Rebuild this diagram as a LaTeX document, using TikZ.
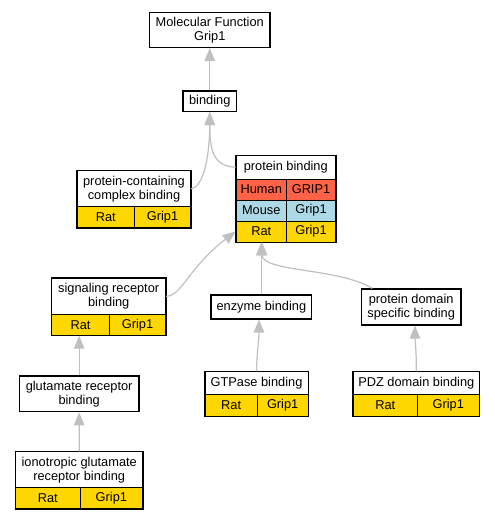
\documentclass[tikz,border=0pt]{standalone}
\usepackage{fontspec}
\setmainfont{Liberation Sans}
\usetikzlibrary{arrows.meta,calc}
\definecolor{ratc}{HTML}{FFD700}
\definecolor{humc}{HTML}{FF6347}
\definecolor{mouc}{HTML}{ADD8E6}
\definecolor{edgec}{HTML}{C0C0C0}
\newcommand\dfs{\fontsize{12.8}{14}\selectfont}
\tikzset{
  cell/.style={draw=black, line width=0.8pt, inner sep=0pt, font=\dfs, align=center, fill=white},
  box/.style={cell, line width=1.2pt},
  frame/.style={draw=black, line width=1.2pt},
  rat/.style={cell, fill=ratc},
  hum/.style={cell, fill=humc},
  mou/.style={cell, fill=mouc},
  edge/.style={draw=edgec, line width=1.2pt, -{Triangle[length=13pt,width=10.5pt]}},
}
\begin{document}
\begin{tikzpicture}[x=1pt,y=-1pt]
\useasboundingbox[fill=white] (0,0) rectangle (495,520);
% Molecular Function
\node[box, minimum width=120.5pt, minimum height=35pt] (mf) at (209.75,30) {Molecular Function\\Grip1};
% binding
\node[box, minimum width=53.5pt, minimum height=20.5pt] (bind) at (209.75,101.25) {binding};
% protein binding
\node[cell, minimum width=99.5pt, minimum height=23.3pt] (pb) at (285.75,167.3) {protein binding};
\node[hum, minimum width=50.5pt, minimum height=21pt] (pbHL) at (261.25,189.5) {Human};
\node[hum, minimum width=49pt, minimum height=21pt] (pbHR) at (311,189.5) {GRIP1};
\node[mou, minimum width=50.5pt, minimum height=21pt] (pbML) at (261.25,210.5) {Mouse};
\node[mou, minimum width=49pt, minimum height=21pt] (pbMR) at (311,210.5) {Grip1};
\node[rat, minimum width=50.5pt, minimum height=21pt] (pbRL) at (261.25,231.5) {Rat};
\node[rat, minimum width=49pt, minimum height=21pt] (pbRR) at (311,231.5) {Grip1};
\draw[frame] (pb.north west) rectangle (pbRR.south east);
% protein-containing complex binding
\node[cell, minimum width=113.4pt, minimum height=36pt] (pcc) at (134,188.7) {protein-containing\\complex binding};
\node[rat, minimum width=57pt, minimum height=21pt] (pccL) at (105.8,217.2) {Rat};
\node[rat, minimum width=56.4pt, minimum height=21pt] (pccR) at (162.5,217.2) {Grip1};
\draw[frame] (pcc.north west) rectangle (pccR.south east);
% signaling receptor binding
\node[cell, minimum width=114pt, minimum height=36pt] (srb) at (108.7,296.3) {signaling receptor\\binding};
\node[rat, minimum width=57.6pt, minimum height=21pt] (srbL) at (80.5,324.8) {Rat};
\node[rat, minimum width=56.4pt, minimum height=21pt] (srbR) at (137.5,324.8) {Grip1};
\draw[frame] (srb.north west) rectangle (srbR.south east);
% glutamate receptor binding
\node[box, minimum width=119.7pt, minimum height=35.7pt] (grb) at (79.15,393.85) {glutamate receptor\\binding};
% ionotropic glutamate receptor binding
\node[cell, minimum width=127pt, minimum height=36pt] (igrb) at (79.2,469.7) {ionotropic glutamate\\receptor binding};
\node[rat, minimum width=64.3pt, minimum height=21pt] (igrbL) at (47.85,498.2) {Rat};
\node[rat, minimum width=62.7pt, minimum height=21pt] (igrbR) at (111.35,498.2) {Grip1};
\draw[frame] (igrb.north west) rectangle (igrbR.south east);
% enzyme binding
\node[box, minimum width=100.7pt, minimum height=24pt] (enz) at (261.35,307) {enzyme binding};
% protein domain specific binding
\node[box, minimum width=99.7pt, minimum height=36pt] (pdsb) at (411.15,307) {protein domain\\specific binding};
% GTPase binding
\node[cell, minimum width=103pt, minimum height=22.6pt] (gtp) at (256.5,383) {GTPase binding};
\node[rat, minimum width=52.3pt, minimum height=21.7pt] (gtpL) at (231.15,405.15) {Rat};
\node[rat, minimum width=50.7pt, minimum height=21.7pt] (gtpR) at (282.65,405.15) {Grip1};
\draw[frame] (gtp.north west) rectangle (gtpR.south east);
% PDZ domain binding
\node[cell, minimum width=126pt, minimum height=22.6pt] (pdz) at (416.3,383) {PDZ domain binding};
\node[rat, minimum width=64pt, minimum height=21.7pt] (pdzL) at (385.3,405.15) {Rat};
\node[rat, minimum width=62pt, minimum height=21.7pt] (pdzR) at (448.3,405.15) {Grip1};
\draw[frame] (pdz.north west) rectangle (pdzR.south east);
% edges
\draw[edge] (bind.north) -- (mf.south);
\draw[edge] (pb.west) .. controls (213,166) and (209.75,150) .. (bind.south);
\draw[edge] (pcc.east) .. controls (205,187) and (209.75,150) .. (bind.south);
\draw[edge] (srb.east) .. controls (182,296) and (188,268) .. (pbRL.west);
\draw[edge] (enz.north -| pbRL.south) -- (pbRL.south);
\coordinate (pdsbA) at ($(pdsb.north west)+(11.5,0)$);
\draw[edge] (pdsbA) .. controls (340,268) and (262,272) .. ($(pbRL.south)+(1,0)$);
\draw[edge] (grb.north) -- (grb.north |- srbL.south);
\draw[edge] (igrb.north) -- (grb.south);
\draw[edge] (gtp.north) .. controls (257,350) and (259,340) .. ($(enz.south)+(-2.3,0)$);
\draw[edge] (pdz.north) .. controls (416.5,350) and (415,340) .. ($(pdsb.south)+(3.8,0)$);
\end{tikzpicture}
\end{document}
